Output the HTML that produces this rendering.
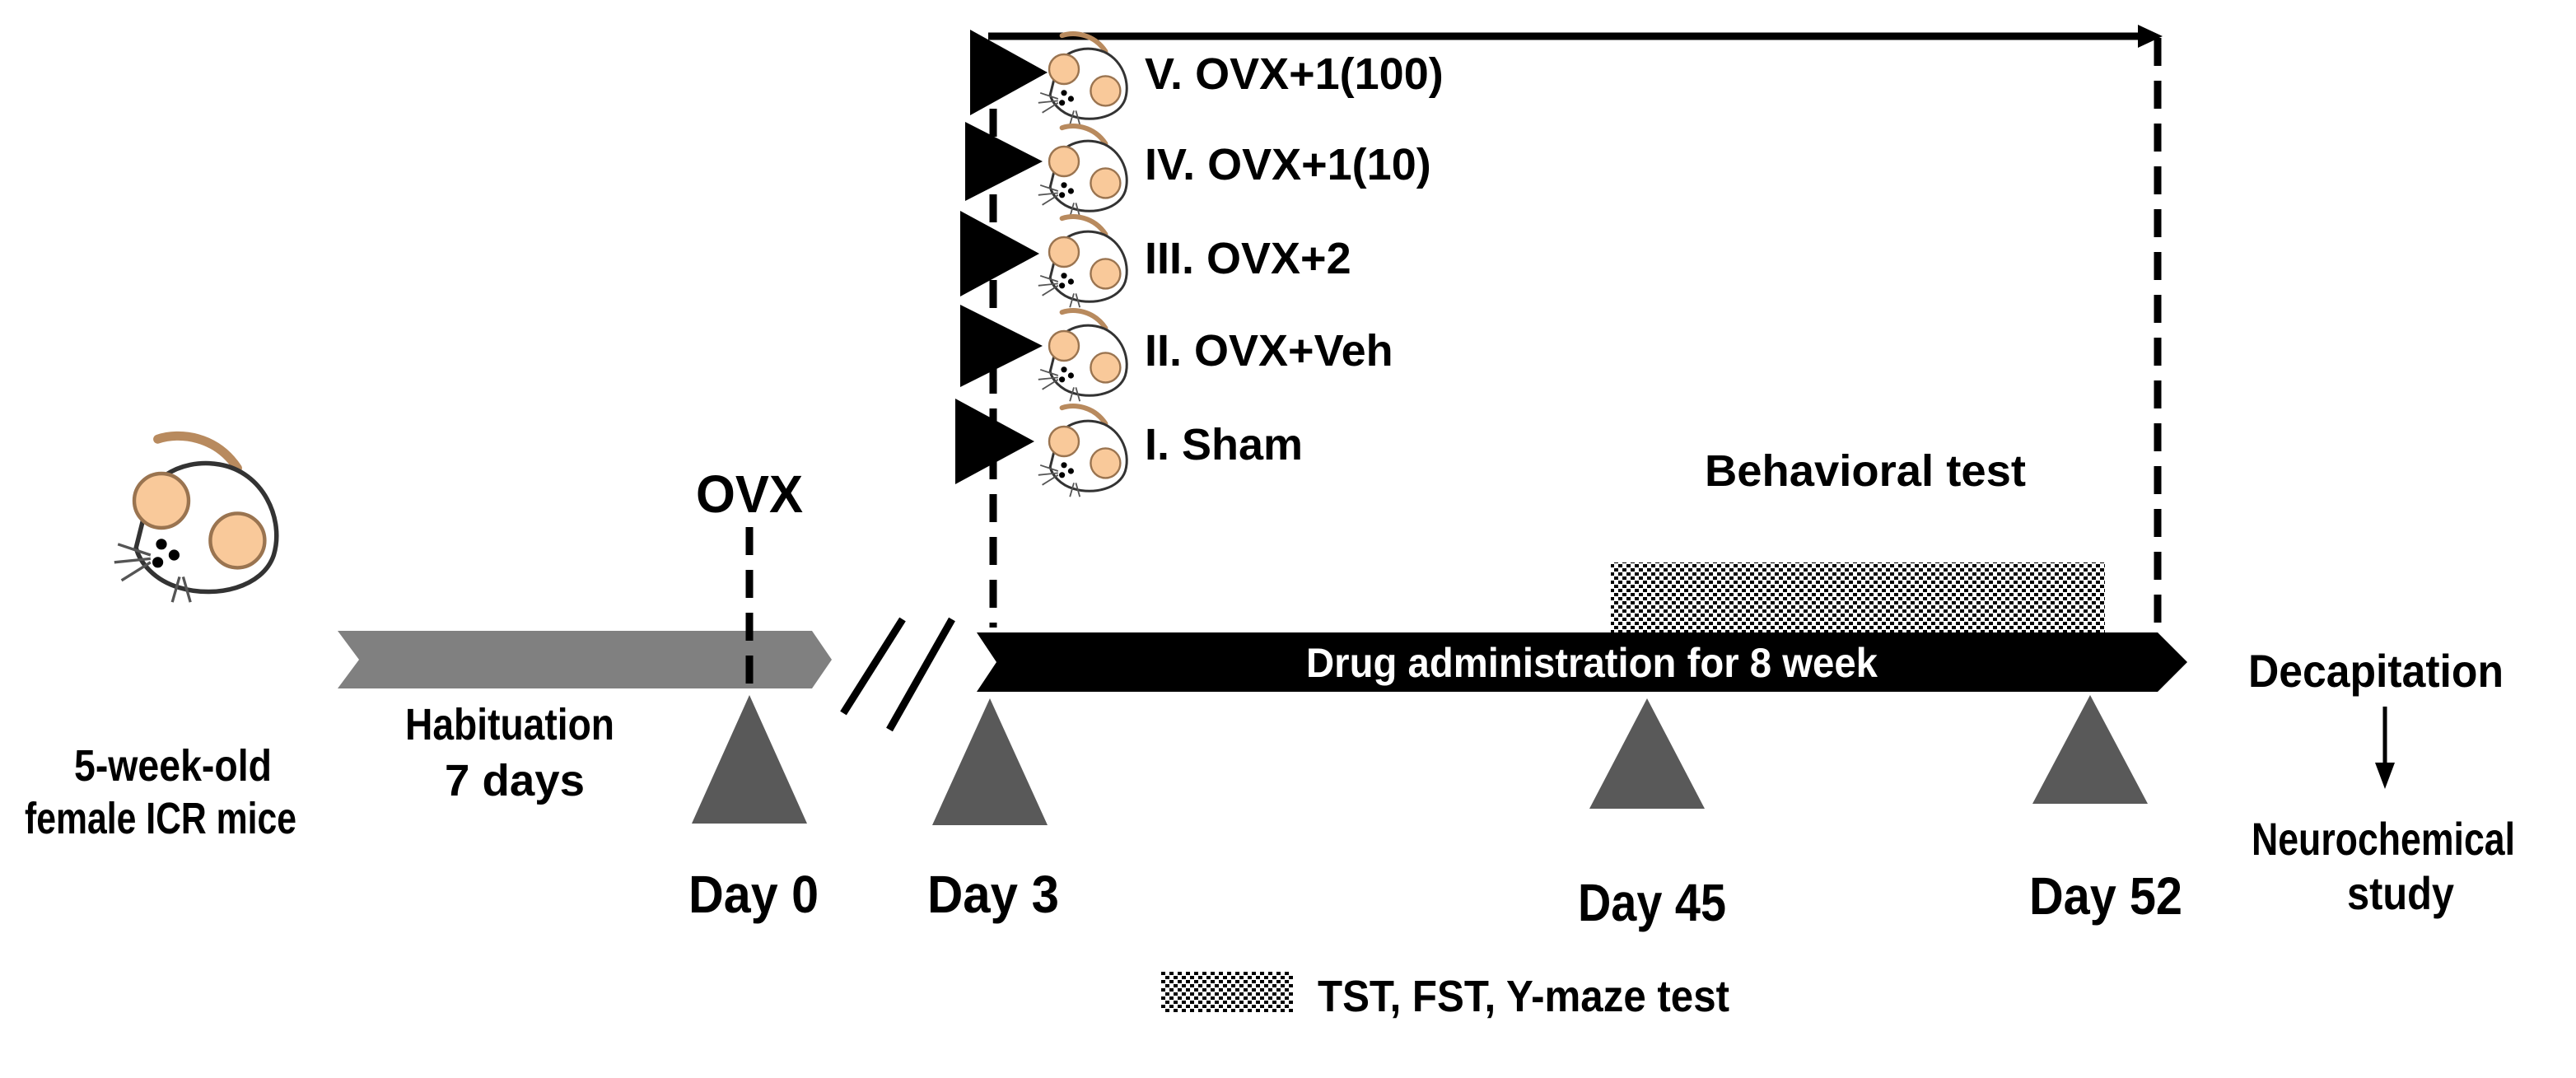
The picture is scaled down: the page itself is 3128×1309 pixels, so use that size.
<!DOCTYPE html>
<html><head><meta charset="utf-8"><style>
html,body{margin:0;padding:0;background:#fff;}
svg{display:block;}
.n{font-family:"Liberation Sans",sans-serif;font-weight:bold;fill:#000;}
.w{font-family:"Liberation Sans",sans-serif;font-weight:bold;fill:#000;}
</style></head><body>
<svg width="3128" height="1309" viewBox="0 0 3128 1309" xmlns="http://www.w3.org/2000/svg">
<defs>
<pattern id="dots" width="10" height="10" patternUnits="userSpaceOnUse">
<rect width="10" height="10" fill="#fff"/>
<rect x="0" y="0" width="5" height="4" fill="#000"/>
<rect x="5" y="5" width="5" height="4" fill="#000"/>
</pattern>
<g id="mouse">
<path d="M72 22 C60 4 40 2 28 6" fill="none" stroke="#b88a5e" stroke-width="5" stroke-linecap="round"/>
<path d="M20 50 C18 30 40 16 62 20 C86 24 98 50 92 70 C86 88 60 94 40 88 C26 84 18 74 16 66 Z" fill="#fff" stroke="#333" stroke-width="2.5"/>
<circle cx="30" cy="40" r="15" fill="#f9c99a" stroke="#9a7450" stroke-width="2"/>
<circle cx="72" cy="62" r="15" fill="#f9c99a" stroke="#9a7450" stroke-width="2"/>
<circle cx="30" cy="64" r="3" fill="#000"/><circle cx="37" cy="70" r="3" fill="#000"/><circle cx="28" cy="74" r="3" fill="#000"/>
<path d="M24 70 L6 64 M24 72 L4 74 M24 74 L8 84 M40 82 L36 96 M42 82 L46 96" stroke="#555" stroke-width="1.5" fill="none"/>
</g>
</defs>

<line x1="1200" y1="44" x2="2600" y2="44" stroke="#000" stroke-width="9"/>
<polygon points="2596,30 2626,44 2596,58" fill="#000"/>

<line x1="1206" y1="80" x2="1206" y2="762" stroke="#000" stroke-width="9" stroke-dasharray="34,18"/>
<line x1="2620" y1="46" x2="2620" y2="768" stroke="#000" stroke-width="9" stroke-dasharray="34,18"/>

<polygon points="410,766 986,766 1010,801 986,836 410,836 436,801" fill="#808080"/>
<line x1="910" y1="640" x2="910" y2="840" stroke="#000" stroke-width="9" stroke-dasharray="34,18"/>

<line x1="1096" y1="752" x2="1024" y2="866" stroke="#000" stroke-width="9"/>
<line x1="1156" y1="752" x2="1080" y2="886" stroke="#000" stroke-width="9"/>

<rect x="1956" y="683" width="600" height="85" fill="url(#dots)"/>

<polygon points="1186,768 2620,768 2656,804 2620,840 1186,840 1210,804" fill="#000"/>
<text x="1586" y="822" class="n" font-size="50" style="fill:#fff" textLength="694" lengthAdjust="spacingAndGlyphs">Drug administration for 8 week</text>

<polygon points="910,844 980,1000 840,1000" fill="#595959"/>
<polygon points="1202,848 1272,1002 1132,1002" fill="#595959"/>
<polygon points="2000,848 2070,982 1930,982" fill="#595959"/>
<polygon points="2538,844 2608,976 2468,976" fill="#595959"/>

<polygon points="1178,36 1272,88 1178,140" fill="#000"/>
<polygon points="1172,148 1266,196 1172,244" fill="#000"/>
<polygon points="1166,256 1262,308 1166,360" fill="#000"/>
<polygon points="1166,370 1266,420 1166,470" fill="#000"/>
<polygon points="1160,484 1256,536 1160,588" fill="#000"/>

<use href="#mouse" transform="translate(1256,36) scale(1.2)"/>
<use href="#mouse" transform="translate(1256,148) scale(1.2)"/>
<use href="#mouse" transform="translate(1256,258) scale(1.2)"/>
<use href="#mouse" transform="translate(1256,372) scale(1.2)"/>
<use href="#mouse" transform="translate(1256,488) scale(1.2)"/>

<text x="1390" y="108" class="w" font-size="54">V. OVX+1(100)</text>
<text x="1390" y="218" class="w" font-size="54">IV. OVX+1(10)</text>
<text x="1390" y="332" class="w" font-size="54">III. OVX+2</text>
<text x="1390" y="444" class="w" font-size="54">II. OVX+Veh</text>
<text x="1390" y="558" class="w" font-size="54">I. Sham</text>

<use href="#mouse" transform="translate(130,520) scale(2.2)"/>

<text x="845" y="622" class="n" font-size="64" textLength="130" lengthAdjust="spacingAndGlyphs">OVX</text>
<text x="2070" y="590" class="n" font-size="54" textLength="390" lengthAdjust="spacingAndGlyphs">Behavioral test</text>
<text x="90" y="948" class="n" font-size="54" textLength="240" lengthAdjust="spacingAndGlyphs">5-week-old</text>
<text x="30" y="1012" class="n" font-size="54" textLength="330" lengthAdjust="spacingAndGlyphs">female ICR mice</text>
<text x="492" y="898" class="n" font-size="54" textLength="254" lengthAdjust="spacingAndGlyphs">Habituation</text>
<text x="540" y="966" class="n" font-size="54" textLength="170" lengthAdjust="spacingAndGlyphs">7 days</text>
<text x="836" y="1108" class="n" font-size="64" textLength="158" lengthAdjust="spacingAndGlyphs">Day 0</text>
<text x="1126" y="1108" class="n" font-size="64" textLength="160" lengthAdjust="spacingAndGlyphs">Day 3</text>
<text x="1916" y="1118" class="n" font-size="64" textLength="180" lengthAdjust="spacingAndGlyphs">Day 45</text>
<text x="2464" y="1110" class="n" font-size="64" textLength="186" lengthAdjust="spacingAndGlyphs">Day 52</text>
<text x="2730" y="834" class="n" font-size="56" textLength="310" lengthAdjust="spacingAndGlyphs">Decapitation</text>
<line x1="2896" y1="858" x2="2896" y2="930" stroke="#000" stroke-width="5"/>
<polygon points="2884,926 2908,926 2896,958" fill="#000"/>
<text x="2734" y="1038" class="n" font-size="56" textLength="320" lengthAdjust="spacingAndGlyphs">Neurochemical</text>
<text x="2850" y="1104" class="n" font-size="56" textLength="130" lengthAdjust="spacingAndGlyphs">study</text>

<rect x="1410" y="1180" width="160" height="50" fill="url(#dots)"/>
<text x="1600" y="1228" class="n" font-size="54" textLength="500" lengthAdjust="spacingAndGlyphs">TST, FST, Y-maze test</text>
</svg>
</body></html>
